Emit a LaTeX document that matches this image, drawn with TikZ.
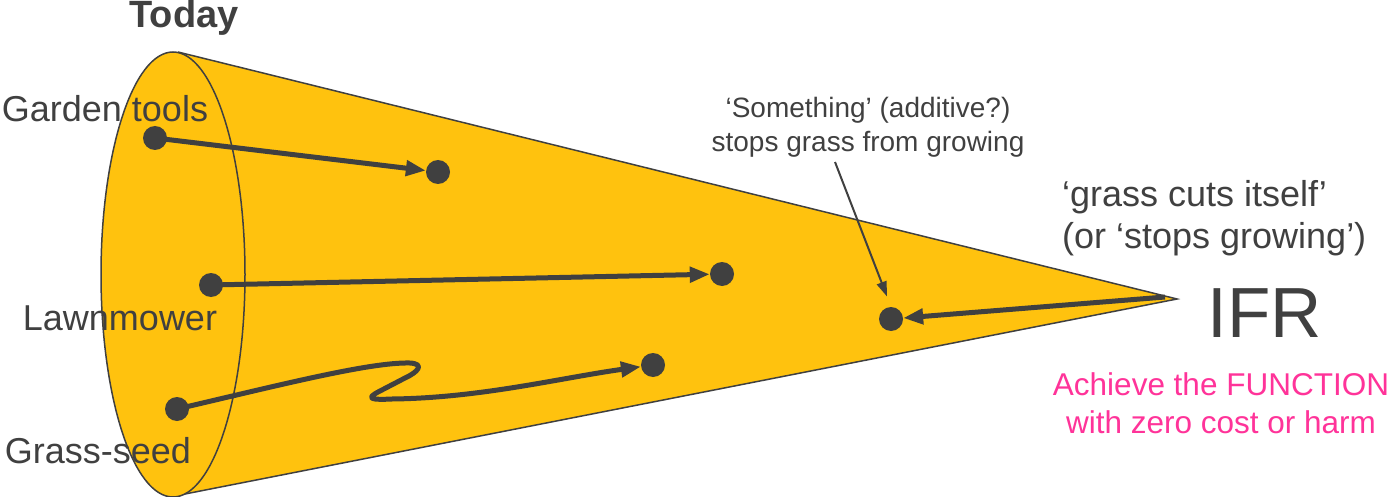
\documentclass[tikz,border=0pt]{standalone}
\usepackage{fontspec}
\setmainfont{Liberation Sans}
\usetikzlibrary{arrows.meta}
\definecolor{coneY}{HTML}{FFC20E}
\definecolor{inkG}{HTML}{404040}
\definecolor{pinkM}{HTML}{FF3399}

\begin{document}
\begin{tikzpicture}[x=1pt,y=-1pt,
  dot/.style={circle,fill=inkG,inner sep=0pt,minimum size=24pt},
  flow/.style={inkG,line width=5pt,line join=round,-{Triangle[length=20pt,width=15pt]}},
  note/.style={inkG,line width=2pt,-{Triangle[length=15pt,width=10pt]}},
  lbl/.style={text=inkG,inner sep=0pt,anchor=base,font=\fontsize{36}{40}\selectfont}]
  \useasboundingbox (0,0) rectangle (1394,497);

  % the cone
  \fill[coneY] (178,52) -- (1177,299) -- (185,494) -- (173,274) -- cycle;
  \filldraw[fill=coneY,draw=inkG,line width=1.5pt] (173,274.5) ellipse (72 and 222.5);
  \draw[inkG,line width=1.5pt] (178,52) -- (1177,299) -- (185,494);

  \node[lbl,font=\bfseries\fontsize{38}{40}\selectfont] (today) at (184,28) {Today};
  \node[lbl] (gtl) at (105,122) {Garden tools};
  \node[lbl] (lml) at (120,330) {Lawnmower};
  \node[lbl] (gsl) at (98,463) {Grass-seed};

  \node[dot] (gt)  at (155,138) {};
  \node[dot] (gte) at (438,172) {};
  \node[dot] (lm)  at (211,285) {};
  \node[dot] (lme) at (722,274) {};
  \node[dot] (gs)  at (177,409) {};
  \node[dot] (gse) at (653,365) {};
  \node[dot] (sf)  at (891,319) {};

  \draw[flow] (gt.center) -- (gte);
  \draw[flow] (lm.center) -- (lme);
  \draw[flow] (gs.center) .. controls (280,385) and (370,362) .. (410,363)
    .. controls (425,364) and (418,372) .. (405,378) -- (380,391)
    .. controls (364,399) and (372,400) .. (392,399)
    .. controls (480,398) and (560,378) .. (gse);

  % the ideal end
  \coordinate (ifrtip) at (1165,297);
  \draw[flow] (ifrtip) -- (sf);
  \node[lbl,font=\fontsize{71}{80}\selectfont] (ifr) at (1265,337) {IFR};
  \node[lbl,align=left,anchor=base west] (self) at (1062,248) {‘grass cuts itself’\\[2pt](or ‘stops growing’)};
  \node[lbl,align=center,text=pinkM,font=\fontsize{31.5}{38}\selectfont] (aim) at (1221,433) {Achieve the FUNCTION\\with zero cost or harm};

  \node[lbl,align=center,font=\fontsize{28}{34}\selectfont] (smth) at (868,152) {‘Something’ (additive?)\\stops grass from growing};
  \coordinate (smtail) at (835,162);
  \draw[note,shorten >=11pt] (smtail) -- (sf.north);
\end{tikzpicture}
\end{document}
